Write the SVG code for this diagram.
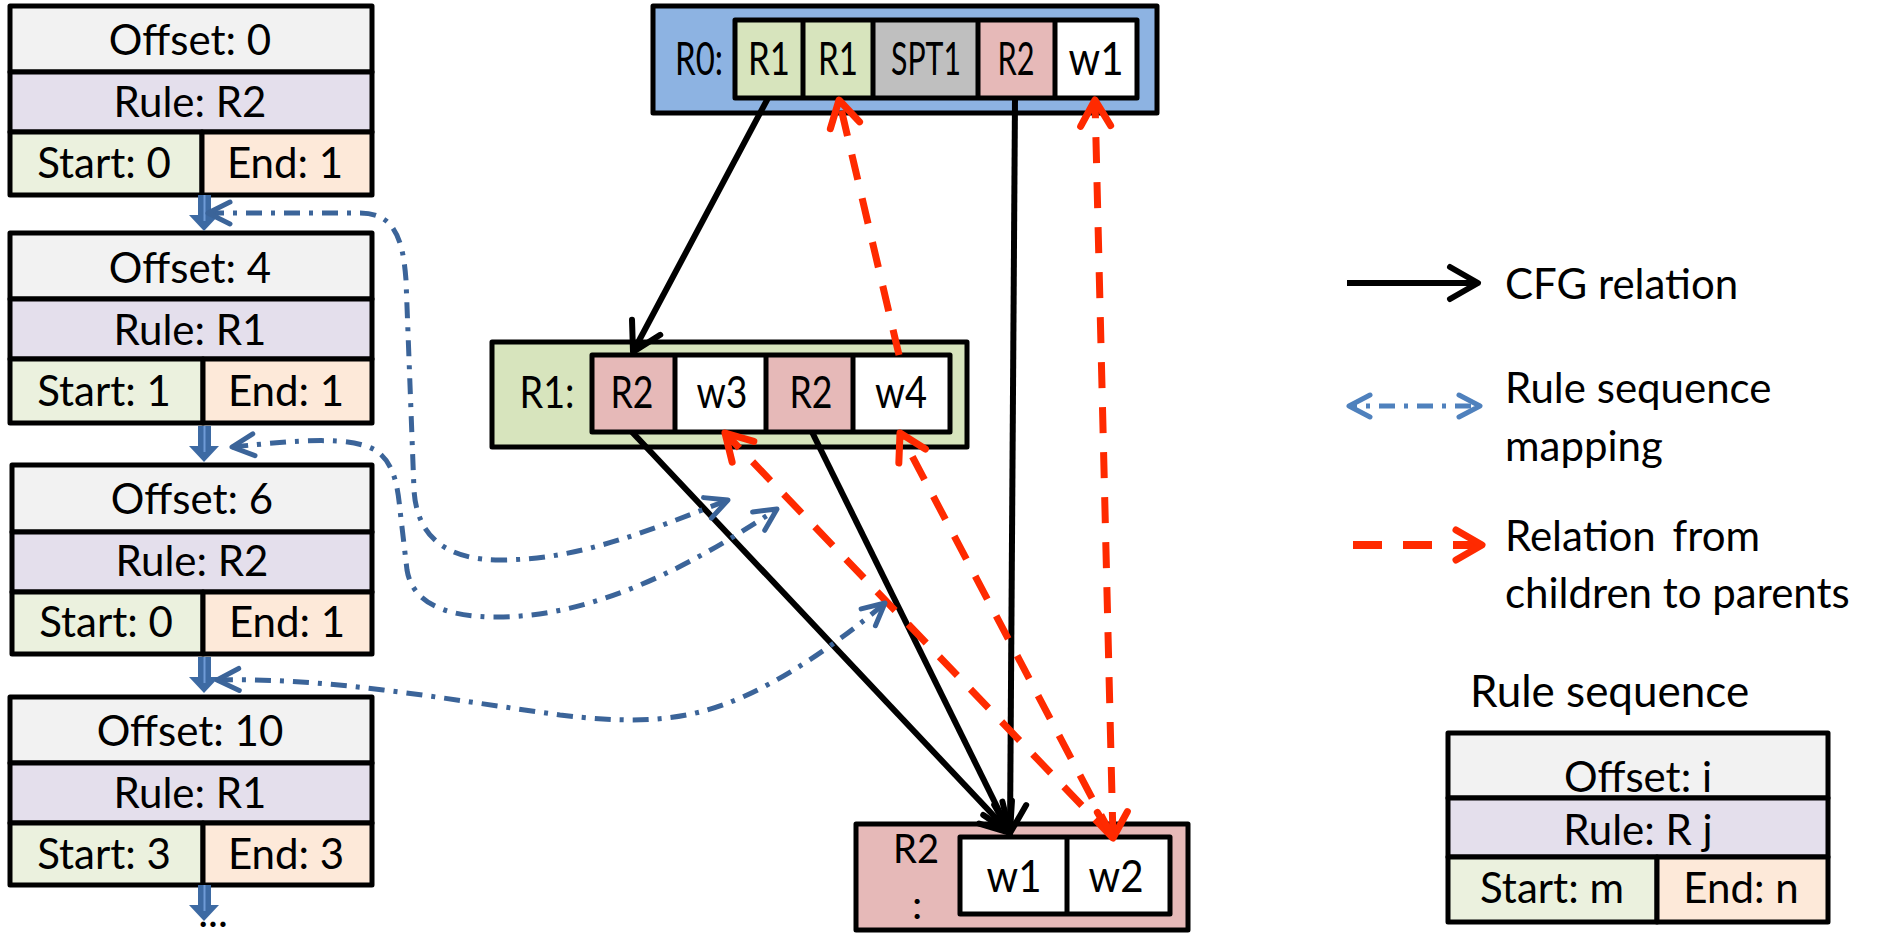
<svg xmlns="http://www.w3.org/2000/svg" width="1897" height="939" viewBox="0 0 1897 939">
<style>
text{font-family:Lato,"Open Sans",sans-serif;fill:#000}
.bt{font-size:42px;text-anchor:middle}
.lg{font-size:42px}
.st{stroke:#000;stroke-width:5;stroke-linejoin:round}
.off{fill:#F2F2F2}.rule{fill:#E4DFEC}.start{fill:#EBF1DE}.end{fill:#FDE9D9}
.g{fill:#D7E4BD}.gr{fill:#BFBFBF}.pk{fill:#E6B9B8}.wh{fill:#FFFFFF}.bl{fill:#8DB3E2}
.cfg{fill:none;stroke:#000;stroke-width:6}
.red{fill:none;stroke:#FF2A00;stroke-width:7;stroke-dasharray:26 19}
.blu{fill:none;stroke:#3B6499;stroke-width:5;stroke-dasharray:16 9 4 9}
.cell{text-anchor:middle}
.barrow{fill:#3D6AA3}
</style>
<defs>
<marker id="mk" markerUnits="userSpaceOnUse" orient="auto" overflow="visible" markerWidth="40" markerHeight="40">
<path d="M-28,-16 L0,0 L-28,16" fill="none" stroke="#000" stroke-width="6" stroke-linecap="round" stroke-linejoin="round"/>
</marker>
<marker id="mr" markerUnits="userSpaceOnUse" orient="auto-start-reverse" overflow="visible" markerWidth="40" markerHeight="40">
<path d="M-26,-15 L0,0 L-26,15" fill="none" stroke="#FF2A00" stroke-width="7" stroke-linecap="round" stroke-linejoin="round"/>
</marker>
<marker id="mb" markerUnits="userSpaceOnUse" orient="auto-start-reverse" overflow="visible" markerWidth="40" markerHeight="40">
<path d="M-22,-11 L0,0 L-22,11" fill="none" stroke="#3B6499" stroke-width="5" stroke-linecap="round" stroke-linejoin="round"/>
</marker>
<marker id="mbl" markerUnits="userSpaceOnUse" orient="auto-start-reverse" overflow="visible" markerWidth="40" markerHeight="40">
<path d="M-21,-11 L0,0 L-21,11" fill="none" stroke="#4F81BD" stroke-width="5" stroke-linecap="round" stroke-linejoin="round"/>
</marker>
<g id="barr">
<polygon class="barrow" points="-6,0 7,0 7,20 15,20 0,36 -15,20 -6,20"/>
<line x1="0.5" y1="0" x2="0.5" y2="26" stroke="#6F9BD6" stroke-width="2"/>
</g>
</defs>

<!-- rule sequence boxes -->
<g id="seq0">
<rect class="off st" x="10" y="6" width="362" height="66"/>
<rect class="rule st" x="10" y="72" width="362" height="60"/>
<rect class="start st" x="10" y="132" width="192" height="63"/>
<rect class="end st" x="202" y="132" width="170" height="63"/>
<text class="bt" x="190" y="55">Offset: 0</text>
<text class="bt" x="190" y="117">Rule: R2</text>
<text class="bt" x="104" y="178">Start: 0</text>
<text class="bt" x="285" y="178">End: 1</text>
</g>
<g id="seq1">
<rect class="off st" x="10" y="233" width="362" height="66"/>
<rect class="rule st" x="10" y="299" width="362" height="60"/>
<rect class="start st" x="10" y="359" width="193" height="64"/>
<rect class="end st" x="203" y="359" width="169" height="64"/>
<text class="bt" x="190" y="283">Offset: 4</text>
<text class="bt" x="190" y="345">Rule: R1</text>
<text class="bt" x="104" y="406">Start: 1</text>
<text class="bt" x="286" y="406">End: 1</text>
</g>
<g id="seq2">
<rect class="off st" x="12" y="465" width="360" height="67"/>
<rect class="rule st" x="12" y="532" width="360" height="60"/>
<rect class="start st" x="12" y="592" width="191" height="62"/>
<rect class="end st" x="203" y="592" width="169" height="62"/>
<text class="bt" x="192" y="514">Offset: 6</text>
<text class="bt" x="192" y="576">Rule: R2</text>
<text class="bt" x="106" y="637">Start: 0</text>
<text class="bt" x="287" y="637">End: 1</text>
</g>
<g id="seq3">
<rect class="off st" x="10" y="697" width="362" height="66"/>
<rect class="rule st" x="10" y="763" width="362" height="60"/>
<rect class="start st" x="10" y="823" width="193" height="62"/>
<rect class="end st" x="203" y="823" width="169" height="62"/>
<text class="bt" x="190" y="746">Offset: 10</text>
<text class="bt" x="190" y="808">Rule: R1</text>
<text class="bt" x="104" y="869">Start: 3</text>
<text class="bt" x="286" y="869">End: 3</text>
</g>
<g id="seq-arrows">
<use href="#barr" x="204" y="195"/>
<use href="#barr" x="204" y="426"/>
<use href="#barr" x="204" y="657"/>
<use href="#barr" x="204" y="885"/>
<text class="bt" x="213" y="927">...</text>
</g>

<!-- R0 -->
<g id="R0">
<rect class="bl st" x="653" y="6" width="504" height="107"/>
<rect class="g" x="735" y="20" width="68" height="78"/>
<rect class="g" x="803" y="20" width="70" height="78"/>
<rect class="gr" x="873" y="20" width="105" height="78"/>
<rect class="pk" x="978" y="20" width="77" height="78"/>
<rect class="wh" x="1055" y="20" width="82" height="78"/>
<path class="st" fill="none" d="M735,20 H1137 V98 H735 Z M803,20 V98 M873,20 V98 M978,20 V98 M1055,20 V98"/>
<text class="cell" font-size="47" x="699" y="75" textLength="48" lengthAdjust="spacingAndGlyphs">R0:</text>
<text class="cell" font-size="47" x="769" y="75" textLength="42" lengthAdjust="spacingAndGlyphs">R1</text>
<text class="cell" font-size="47" x="838" y="75" textLength="40" lengthAdjust="spacingAndGlyphs">R1</text>
<text class="cell" font-size="47" x="926" y="75" textLength="70" lengthAdjust="spacingAndGlyphs">SPT1</text>
<text class="cell" font-size="47" x="1016" y="75" textLength="37" lengthAdjust="spacingAndGlyphs">R2</text>
<text class="cell" font-size="47" x="1096" y="75" textLength="55" lengthAdjust="spacingAndGlyphs">w1</text>
</g>

<!-- R1 -->
<g id="R1">
<rect class="g st" x="492" y="342" width="475" height="105"/>
<rect class="pk" x="592" y="355" width="83" height="77"/>
<rect class="wh" x="675" y="355" width="91" height="77"/>
<rect class="pk" x="766" y="355" width="87" height="77"/>
<rect class="wh" x="853" y="355" width="97" height="77"/>
<path class="st" fill="none" d="M592,355 H950 V432 H592 Z M675,355 V432 M766,355 V432 M853,355 V432"/>
<text class="cell" font-size="44" x="547" y="408" textLength="55" lengthAdjust="spacingAndGlyphs">R1:</text>
<text class="cell" font-size="44" x="632" y="408" textLength="43" lengthAdjust="spacingAndGlyphs">R2</text>
<text class="cell" font-size="44" x="722" y="408" textLength="51" lengthAdjust="spacingAndGlyphs">w3</text>
<text class="cell" font-size="44" x="811" y="408" textLength="43" lengthAdjust="spacingAndGlyphs">R2</text>
<text class="cell" font-size="44" x="901" y="408" textLength="52" lengthAdjust="spacingAndGlyphs">w4</text>
</g>

<!-- R2 -->
<g id="R2">
<rect class="pk st" x="856" y="824" width="332" height="106"/>
<rect class="wh" x="960" y="837" width="210" height="77"/>
<path class="st" fill="none" d="M960,837 H1170 V914 H960 Z M1067,837 V914"/>
<text class="cell" font-size="41" x="916" y="863" textLength="46" lengthAdjust="spacingAndGlyphs">R2</text>
<text class="cell" font-size="41" x="917" y="919">:</text>
<text class="cell" font-size="44" x="1014" y="892" textLength="55" lengthAdjust="spacingAndGlyphs">w1</text>
<text class="cell" font-size="44" x="1116" y="892" textLength="55" lengthAdjust="spacingAndGlyphs">w2</text>
</g>

<!-- connectors -->
<g id="connectors">
<path class="cfg" d="M768,98 L633,352" marker-end="url(#mk)"/>
<path class="cfg" d="M1015,98 L1010,833" marker-end="url(#mk)"/>
<path class="cfg" d="M632,432 L1010,833" marker-end="url(#mk)"/>
<path class="cfg" d="M812,432 L1010,833" marker-end="url(#mk)"/>
<path class="red" d="M899,355 L839,100" marker-end="url(#mr)"/>
<path class="red" d="M1113,838 L1095,100" marker-start="url(#mr)" marker-end="url(#mr)"/>
<path class="red" d="M1113,838 L725,433" marker-end="url(#mr)"/>
<path class="red" d="M1113,838 L900,433" marker-end="url(#mr)"/>
<path class="blu" d="M208,213 L360,213 C395,213 403,240 406,280 L414,490 C417,540 450,560 500,560 C580,560 650,530 728,500" marker-start="url(#mb)" marker-end="url(#mb)"/>
<path class="blu" d="M232,447 C300,440 350,436 375,450 C395,462 398,490 400,510 L407,570 C412,600 440,617 497,617 C600,617 700,560 777,509" marker-start="url(#mb)" marker-end="url(#mb)"/>
<path class="blu" d="M217,680 C330,677 450,700 560,715 C620,722 660,722 700,712 C760,697 830,650 885,603" marker-start="url(#mb)" marker-end="url(#mb)"/>
</g>

<!-- legend -->
<g id="legend">
<path class="cfg" d="M1347,283 L1478,283" marker-end="url(#mk)"/>
<text class="lg" x="1505" y="299">CFG relation</text>
<path fill="none" stroke="#4F81BD" stroke-width="5" stroke-dasharray="16 9 4 9" stroke-dashoffset="-30" d="M1349,406 L1480,406" marker-start="url(#mbl)" marker-end="url(#mbl)"/>
<text class="lg" x="1505" y="403">Rule sequence</text>
<text class="lg" x="1505" y="461">mapping</text>
<path fill="none" stroke="#FF2A00" stroke-width="8" stroke-dasharray="29 21" d="M1353,545 L1482,545" marker-end="url(#mr)"/>
<text class="lg" x="1505" y="551" word-spacing="6">Relation from</text>
<text class="lg" x="1505" y="608">children to parents</text>
</g>

<g id="legend-seq">
<text class="lg" x="1470" y="707" style="font-size:44px">Rule sequence</text>
<rect class="off st" x="1448" y="733" width="380" height="65"/>
<rect class="rule st" x="1448" y="798" width="380" height="59"/>
<rect class="start st" x="1448" y="857" width="209" height="65"/>
<rect class="end st" x="1657" y="857" width="171" height="65"/>
<text class="bt" x="1638" y="792">Offset: i</text>
<text class="bt" x="1638" y="845">Rule: R j</text>
<text class="bt" x="1552" y="903">Start: m</text>
<text class="bt" x="1741" y="903">End: n</text>
</g>
</svg>
